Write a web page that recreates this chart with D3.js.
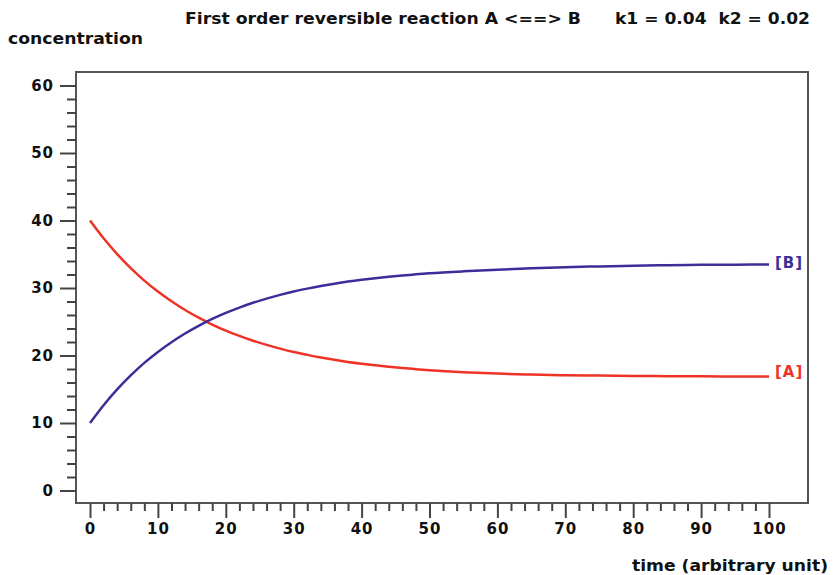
<!DOCTYPE html>
<html>
<head>
<meta charset="utf-8">
<script src="https://cdn.jsdelivr.net/npm/d3@7"></script>
<style>
  html, body { margin: 0; padding: 0; background: #fff; }
  svg { display: block; }
  .lbl { font-family: "DejaVu Sans", Verdana, sans-serif; font-weight: bold; white-space: pre; }
</style>
</head>
<body>
<svg id="chart" width="834" height="575"></svg>
<script>
// Time points (arbitrary units)
const time = [0, 2, 4, 6, 8, 10, 12, 14, 16, 18, 20, 22, 24, 26, 28, 30, 32, 34, 36, 38,
              40, 42, 44, 46, 48, 50, 55, 60, 65, 70, 75, 80, 85, 90, 95, 100];
// Concentration of A
const concA = [40.00, 37.36, 35.02, 32.95, 31.10, 29.47, 28.03, 26.74, 25.60, 24.59,
               23.69, 22.90, 22.19, 21.57, 21.02, 20.52, 20.09, 19.70, 19.36, 19.05,
               18.78, 18.54, 18.33, 18.14, 17.98, 17.83, 17.53, 17.32, 17.18, 17.08,
               17.02, 16.98, 16.94, 16.92, 16.90, 16.90];
// Concentration of B
const concB = [10.00, 12.64, 14.98, 17.05, 18.90, 20.53, 21.97, 23.26, 24.40, 25.41,
               26.31, 27.10, 27.81, 28.43, 28.98, 29.48, 29.91, 30.30, 30.64, 30.95,
               31.22, 31.46, 31.67, 31.86, 32.02, 32.17, 32.47, 32.72, 32.92, 33.08,
               33.20, 33.30, 33.38, 33.43, 33.46, 33.48];
const yMajorTicks = [0, 10, 20, 30, 40, 50, 60];
const xMajorTicks = [0, 10, 20, 30, 40, 50, 60, 70, 80, 90, 100];
const seriesNames = ["[A]", "[B]"];
const titleMain = "First order reversible reaction A <==> B";
const titleRates = "k1 = 0.04  k2 = 0.02";

const svg = d3.select("#chart");
const box = { left: 76, right: 808, top: 72, bottom: 503 };

const x = d3.scaleLinear().domain([0, 100]).range([90, 769]);
const y = d3.scaleLinear().domain([0, 60]).range([490.5, 85.5]);

const axisColor = "#444";

// Plot frame
svg.append("rect")
  .attr("x", box.left).attr("y", box.top)
  .attr("width", box.right - box.left).attr("height", box.bottom - box.top)
  .attr("fill", "none").attr("stroke", "#555").attr("stroke-width", 2);

function styleAxis(g) {
  g.select(".domain").remove();
  g.selectAll(".tick line").attr("stroke", axisColor).attr("stroke-width", 2);
  g.selectAll(".tick text")
    .attr("fill", "#111")
    .attr("class", "lbl")
    .style("font-size", "15px")
    .style("letter-spacing", "1px");
}

// Y axis: minor ticks every 2, major every 10
svg.append("g").attr("transform", `translate(${box.left},0)`)
  .call(d3.axisLeft(y).tickValues(d3.range(0, 61, 2).filter(v => v % 10 !== 0))
    .tickSize(9).tickFormat(""))
  .call(styleAxis);
svg.append("g").attr("transform", `translate(${box.left},0)`)
  .call(d3.axisLeft(y).tickValues(yMajorTicks).tickSize(16).tickPadding(6).tickFormat(d3.format("d")))
  .call(styleAxis);

// X axis: minor ticks every 2, major every 10
svg.append("g").attr("transform", `translate(0,${box.bottom})`)
  .call(d3.axisBottom(x).tickValues(d3.range(0, 101, 2).filter(v => v % 10 !== 0))
    .tickSize(8).tickFormat(""))
  .call(styleAxis);
svg.append("g").attr("transform", `translate(0,${box.bottom})`)
  .call(d3.axisBottom(x).tickValues(xMajorTicks).tickSize(15).tickPadding(5).tickFormat(d3.format("d")))
  .call(styleAxis);

// Curves
const colors = { A: "#ee3326", B: "#3b2e98" };
const line = d3.line().x((d, i) => x(time[i])).y(d => y(d)).curve(d3.curveMonotoneX);

svg.append("path").datum(concA)
  .attr("d", line).attr("fill", "none")
  .attr("stroke", colors.A).attr("stroke-width", 2.5);
svg.append("path").datum(concB)
  .attr("d", line).attr("fill", "none")
  .attr("stroke", colors.B).attr("stroke-width", 2.5);

// Series labels at the curve ends
const last = time.length - 1;
svg.append("text").attr("class", "lbl")
  .attr("x", x(time[last]) + 6).attr("y", y(concA[last]) + 1)
  .attr("fill", colors.A).style("font-size", "15px").style("letter-spacing", "1px")
  .text(seriesNames[0]);
svg.append("text").attr("class", "lbl")
  .attr("x", x(time[last]) + 6).attr("y", y(concB[last]) + 3)
  .attr("fill", colors.B).style("font-size", "15px").style("letter-spacing", "1px")
  .text(seriesNames[1]);

// Titles
svg.append("text").attr("class", "lbl")
  .attr("x", 185).attr("y", 24)
  .attr("textLength", 396).attr("lengthAdjust", "spacingAndGlyphs")
  .attr("fill", "#111").style("font-size", "15px").text(titleMain);
svg.append("text").attr("class", "lbl")
  .attr("x", 615).attr("y", 24)
  .attr("textLength", 195).attr("lengthAdjust", "spacingAndGlyphs")
  .attr("fill", "#111").style("font-size", "15px").text(titleRates);

svg.append("text").attr("class", "lbl")
  .attr("x", 8).attr("y", 44)
  .attr("textLength", 135).attr("lengthAdjust", "spacingAndGlyphs")
  .attr("fill", "#111").style("font-size", "15px").text("concentration");

svg.append("text").attr("class", "lbl")
  .attr("x", 632).attr("y", 571)
  .attr("textLength", 196).attr("lengthAdjust", "spacingAndGlyphs")
  .attr("fill", "#111").style("font-size", "15px").text("time (arbitrary unit)");
</script>
</body>
</html>
